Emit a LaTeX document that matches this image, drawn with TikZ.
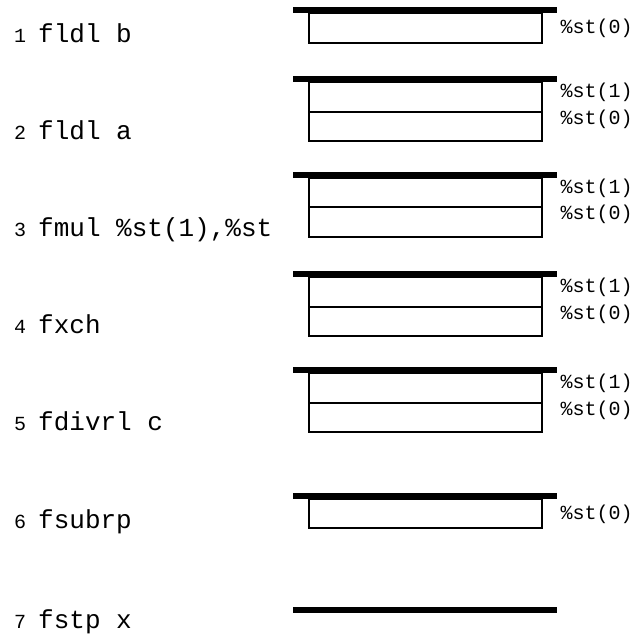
\documentclass[tikz,border=0pt]{standalone}
\usepackage{fontspec}
\usepackage{tikz}
\usetikzlibrary{positioning}
\newfontfamily\codefont{Liberation Mono}
\newcommand{\lnum}[1]{{\fontsize{20}{24}\selectfont #1 }}

\begin{document}
\begin{tikzpicture}[x=1pt,y=-1pt,
  fpbar/.style={fill=black,minimum width=264pt,minimum height=6pt,inner sep=0pt,outer sep=0pt},
  cell/.style={draw=black,line width=2pt,minimum width=233pt,minimum height=29.5pt,inner sep=0pt,outer sep=0pt},
  reg/.style={font=\codefont\fontsize{20}{24}\selectfont,inner sep=0pt,anchor=west},
  ins/.style={font=\codefont\fontsize{26}{30}\selectfont,inner sep=0pt,anchor=base west}]
\useasboundingbox (0,0) rectangle (639,635);
% ---- instructions
\node[ins] (i1) at (14,42)  {\lnum{1}fldl b};
\node[ins] (i2) at (14,139) {\lnum{2}fldl a};
\node[ins] (i3) at (14,236) {\lnum{3}fmul \%st(1),\%st};
\node[ins] (i4) at (14,333) {\lnum{4}fxch};
\node[ins] (i5) at (14,430) {\lnum{5}fdivrl c};
\node[ins] (i6) at (14,528) {\lnum{6}fsubrp};
\node[ins] (i7) at (14,628) {\lnum{7}fstp x};
% ---- stack 1
\node[fpbar] (b1) at (425,10) {};
\node[cell,below=0pt of b1] (c1a) {};
\node[reg,right=19pt of c1a,yshift=-1pt] (r1a) {\%st(0)};
% ---- stack 2
\node[fpbar] (b2) at (425,79) {};
\node[cell,below=0pt of b2] (c2a) {};
\node[cell,below=0pt of c2a] (c2b) {};
\node[reg,right=19pt of c2a,yshift=4pt] (r2a) {\%st(1)};
\node[reg,right=19pt of c2b,yshift=7pt] (r2b) {\%st(0)};
% ---- stack 3
\node[fpbar] (b3) at (425,174.5) {};
\node[cell,below=0pt of b3] (c3a) {};
\node[cell,below=0pt of c3a] (c3b) {};
\node[reg,right=19pt of c3a,yshift=4pt] (r3a) {\%st(1)};
\node[reg,right=19pt of c3b,yshift=7pt] (r3b) {\%st(0)};
% ---- stack 4
\node[fpbar] (b4) at (425,274) {};
\node[cell,below=0pt of b4] (c4a) {};
\node[cell,below=0pt of c4a] (c4b) {};
\node[reg,right=19pt of c4a,yshift=4pt] (r4a) {\%st(1)};
\node[reg,right=19pt of c4b,yshift=7pt] (r4b) {\%st(0)};
% ---- stack 5
\node[fpbar] (b5) at (425,370) {};
\node[cell,below=0pt of b5] (c5a) {};
\node[cell,below=0pt of c5a] (c5b) {};
\node[reg,right=19pt of c5a,yshift=4pt] (r5a) {\%st(1)};
\node[reg,right=19pt of c5b,yshift=7pt] (r5b) {\%st(0)};
% ---- stack 6
\node[fpbar] (b6) at (425,495.5) {};
\node[cell,below=0pt of b6] (c6a) {};
\node[reg,right=19pt of c6a,yshift=-1pt] (r6a) {\%st(0)};
% ---- stack 7 (empty)
\node[fpbar] (b7) at (425,610) {};
\end{tikzpicture}
\end{document}
